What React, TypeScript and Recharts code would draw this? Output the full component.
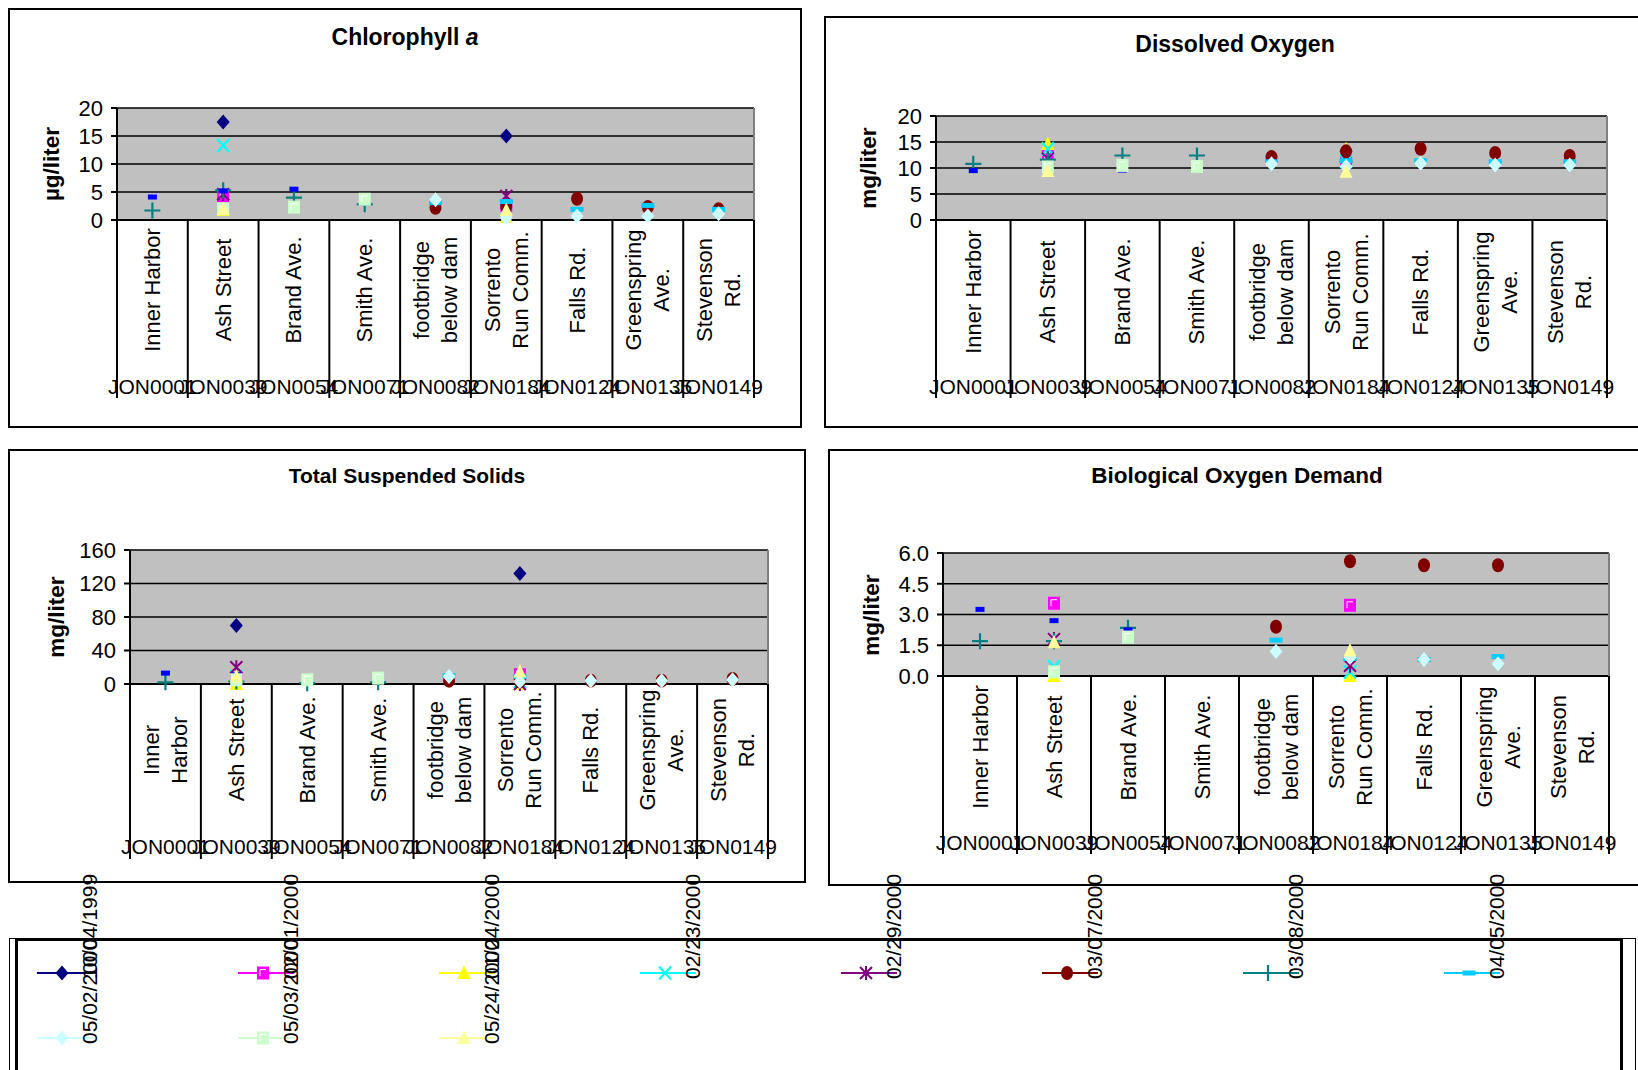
import React from "react";
import type { ReactNode } from "react";
import { CartesianGrid, ComposedChart, Line, XAxis, YAxis } from "recharts";

const FONT = '"Liberation Sans", Arial, Helvetica, sans-serif';
const FONT_SIZE = 21;
const NAME_SIZE = 22;
const N = null;

const stations = [
  "Inner Harbor",
  "Ash Street",
  "Brand Ave.",
  "Smith Ave.",
  "footbridge below dam",
  "Sorrento Run Comm.",
  "Falls Rd.",
  "Greenspring Ave.",
  "Stevenson Rd."
];
const stationCodes = ["JON0001", "JON0039", "JON0054", "JON0071", "JON0082", "JON0184", "JON0124", "JON0135", "JON0149"];

// sampling dates, one per series (the 8th series has no legend entry)
const seriesDates = [
  "10/04/1999",
  "02/01/2000",
  "01/24/2000",
  "02/23/2000",
  "02/29/2000",
  "03/07/2000",
  "03/08/2000",
  "",
  "04/05/2000",
  "05/02/2000",
  "05/03/2000",
  "05/24/2000"
];
const seriesColors = [
  "#000080", "#FF00FF", "#FFFF00", "#00FFFF", "#800080", "#800000",
  "#008080", "#0000FF", "#00CCFF", "#CCFFFF", "#CCFFCC", "#FFFF99"
];
const seriesMarkers = [
  "diamond", "square", "triangle", "x", "star", "circle",
  "plus", "shortDash", "dash", "diamond", "square", "triangle"
];
const legendSeries = [0, 1, 2, 3, 4, 5, 6, 8, 9, 10, 11];

const chlorophyllTicks = [0, 5, 10, 15, 20];
const chlorophyllValues: (number | null)[][] = [
  [N, 17.5, N, N, N, 15.0, N, N, N],
  [N, 4.3, N, N, N, 2.6, N, N, N],
  [N, 1.8, N, N, N, 0.6, N, N, N],
  [N, 13.3, N, N, N, N, N, N, N],
  [N, 4.6, N, N, N, 4.3, N, N, N],
  [N, N, N, N, 2.2, 2.4, 3.8, 2.3, 1.9],
  [1.7, 5.3, 4.0, 2.8, N, N, N, N, N],
  [4.1, 5.2, 5.5, 3.0, N, N, N, N, N],
  [N, N, N, N, 3.1, 3.3, 1.9, 2.6, 1.9],
  [N, N, N, N, 3.6, 0.4, 0.7, 0.7, 1.1],
  [N, 2.0, 2.3, 3.7, N, N, N, N, N],
  [N, 2.0, N, N, N, 1.8, N, N, N]
];

const oxygenTicks = [0, 5, 10, 15, 20];
const oxygenValues: (number | null)[][] = [
  [N, N, N, N, N, N, N, N, N],
  [N, 12.3, N, N, N, 11.8, N, N, N],
  [N, 14.6, N, N, N, 13.6, N, N, N],
  [N, 13.7, N, N, N, 11.3, N, N, N],
  [N, 11.8, N, N, N, 12.2, N, N, N],
  [N, N, N, N, 12.1, 13.2, 13.7, 12.9, 12.3],
  [10.8, 11.6, 12.4, 12.4, N, N, N, N, N],
  [9.5, 9.8, 9.6, 9.6, N, N, N, N, N],
  [N, N, N, N, 11.2, 11.4, 11.4, 11.2, 11.2],
  [N, N, N, N, 10.8, 10.3, 10.9, 10.6, 10.6],
  [N, 10.2, 10.5, 10.3, N, N, N, N, N],
  [N, 9.4, N, N, N, 9.3, N, N, N]
];

const solidsTicks = [0, 40, 80, 120, 160];
const solidsValues: (number | null)[][] = [
  [N, 70, N, N, N, 132, N, N, N],
  [N, 6, N, N, N, 11, N, N, N],
  [N, 0, N, N, N, 0, N, N, N],
  [N, 9, N, N, N, 3, N, N, N],
  [N, 20, N, N, N, 0, N, N, N],
  [N, N, N, N, 4, 3, 4, 4, 6],
  [2, 3, 1, 2, N, N, N, N, N],
  [13, 11, 9, 7, N, N, N, N, N],
  [N, N, N, N, 10, 9, N, N, N],
  [N, N, N, N, 9, 3, 4, 4, 5],
  [N, 5, 5, 7, N, N, N, N, N],
  [N, 9, N, N, N, 15, N, N, N]
];

const bodTicks = [0, 1.5, 3, 4.5, 6];
const bodValues: (number | null)[][] = [
  [N, N, N, N, N, N, N, N, N],
  [N, 3.55, N, N, N, 3.45, N, N, N],
  [N, 0.0, N, N, N, 0.0, N, N, N],
  [N, 0.45, N, N, N, 0.2, N, N, N],
  [N, 1.8, N, N, N, 0.5, N, N, N],
  [N, N, N, N, 2.4, 5.6, 5.4, 5.4, N],
  [1.7, 1.7, 2.35, N, N, N, N, N, N],
  [3.25, 2.7, 2.25, N, N, N, N, N, N],
  [N, N, N, N, 1.75, 0.85, 0.8, 0.95, N],
  [N, N, N, N, 1.2, 0.9, 0.8, 0.6, N],
  [N, 0.2, 1.9, N, N, N, N, N, N],
  [N, 1.65, N, N, N, 1.25, N, N, N]
];

let measureCtx: CanvasRenderingContext2D | null = null;
function textWidth(s: string) {
  if (!measureCtx) measureCtx = document.createElement("canvas").getContext("2d");
  if (!measureCtx) return s.length * NAME_SIZE * 0.55;
  measureCtx.font = `${NAME_SIZE}px ${FONT}`;
  return measureCtx.measureText(s).width;
}

function wrapLabel(name: string, maxWidth: number) {
  const lines: string[] = [];
  let cur = "";
  for (const w of name.split(" ")) {
    const next = cur ? `${cur} ${w}` : w;
    if (cur && textWidth(next) > maxWidth) {
      lines.push(cur);
      cur = w;
    } else {
      cur = next;
    }
  }
  if (cur) lines.push(cur);
  return lines;
}

function marker(kind: string, color: string, cx: number, cy: number, key?: string | number) {
  switch (kind) {
    case "diamond":
      return <polygon key={key} points={`${cx},${cy - 7.5} ${cx + 6.5},${cy} ${cx},${cy + 7.5} ${cx - 6.5},${cy}`} fill={color} />;
    case "square":
      return (
        <g key={key}>
          <rect x={cx - 6} y={cy - 6.5} width={12} height={13} fill={color} />
          <path d={`M${cx - 3} ${cy + 3} V${cy - 3.5} H${cx + 3}`} stroke="#fff" strokeWidth={1} fill="none" />
        </g>
      );
    case "triangle":
      return <polygon key={key} points={`${cx},${cy - 7.5} ${cx + 6.5},${cy + 6} ${cx - 6.5},${cy + 6}`} fill={color} />;
    case "x":
      return (
        <path key={key} d={`M${cx - 6} ${cy - 6.5} L${cx + 6} ${cy + 6.5} M${cx + 6} ${cy - 6.5} L${cx - 6} ${cy + 6.5}`} stroke={color} strokeWidth={2.2} />
      );
    case "star":
      return (
        <path
          key={key}
          d={`M${cx - 6} ${cy - 6} L${cx + 6} ${cy + 6} M${cx + 6} ${cy - 6} L${cx - 6} ${cy + 6} M${cx} ${cy - 7} V${cy + 7}`}
          stroke={color}
          strokeWidth={2}
        />
      );
    case "circle":
      return <ellipse key={key} cx={cx} cy={cy} rx={6} ry={7} fill={color} />;
    case "plus":
      return <path key={key} d={`M${cx - 8} ${cy} H${cx + 8} M${cx} ${cy - 8} V${cy + 8}`} stroke={color} strokeWidth={2.2} />;
    case "shortDash":
      return <rect key={key} x={cx - 4.5} y={cy - 2.5} width={9} height={5} fill={color} />;
    default:
      return <rect key={key} x={cx - 6.5} y={cy - 2.5} width={13} height={5} fill={color} />;
  }
}

type Box = { left: number; top: number; right: number; bottom: number };

type PanelProps = {
  title: ReactNode;
  titleSize: number;
  unit: string;
  values: (number | null)[][];
  ticks: number[];
  decimals: number;
  box: Box;
  plot: Box;
  titleY: number;
  unitX: number;
  labelOffset: number;
  codeOffset: number;
  dividerLength: number;
  wrapWidth: number;
};

function Panel(p: PanelProps) {
  const width = p.box.right - p.box.left;
  const height = p.box.bottom - p.box.top;
  const band = (p.plot.right - p.plot.left) / stations.length;
  const rows = stations.map((name, i) => {
    const row: Record<string, number | string | null> = { pos: i + 0.5, station: name };
    p.values.forEach((vals, k) => {
      row[`s${k}`] = vals[i];
    });
    return row;
  });

  const renderTick = (props: any) => {
    const { x, y, payload } = props;
    const index = Math.floor(payload.value);
    const lines = wrapLabel(stations[index], p.wrapWidth);
    return (
      <g>
        <line x1={x - band / 2} y1={y} x2={x - band / 2} y2={y + p.dividerLength} stroke="#000" strokeWidth={2} />
        {index === stations.length - 1 && (
          <line x1={x + band / 2} y1={y} x2={x + band / 2} y2={y + p.dividerLength} stroke="#000" strokeWidth={2} />
        )}
        <g transform={`translate(${x},${y + p.labelOffset}) rotate(-90)`}>
          {lines.map((line, i) => (
            <text
              key={i}
              x={0}
              y={(i - (lines.length - 1) / 2) * 28}
              textAnchor="middle"
              dominantBaseline="central"
              fontSize={NAME_SIZE}
              fontFamily={FONT}
              fill="#000"
            >
              {line}
            </text>
          ))}
        </g>
        <text x={x} y={y + p.codeOffset} textAnchor="middle" dominantBaseline="central" fontSize={FONT_SIZE} fontFamily={FONT} fill="#000">
          {stationCodes[index]}
        </text>
      </g>
    );
  };

  const dotFor = (k: number) => (props: any) => {
    const { cx, cy, value, index } = props;
    if (value == null || cx == null || cy == null || Number.isNaN(cy)) return <g key={`e-${k}-${index}`} />;
    return marker(seriesMarkers[k], seriesColors[k], cx, cy, `d-${k}-${index}`);
  };

  return (
    <>
      <div
        style={{
          position: "absolute",
          left: p.box.left,
          top: p.box.top,
          width,
          height,
          border: "2px solid #000",
          boxSizing: "border-box"
        }}
      />
      <div style={{ position: "absolute", left: p.box.left, top: p.box.top }}>
        <ComposedChart
          width={width}
          height={height}
          data={rows}
          margin={{ top: p.plot.top - p.box.top, right: p.box.right - p.plot.right, left: 0, bottom: 0 }}
        >
          <CartesianGrid vertical={false} stroke="#000" strokeWidth={1.5} fill="#C0C0C0" fillOpacity={1} />
          <XAxis
            type="number"
            dataKey="pos"
            domain={[0, stations.length]}
            ticks={stations.map((_, i) => i + 0.5)}
            interval={0}
            height={p.box.bottom - p.plot.bottom}
            tickSize={0}
            tickMargin={0}
            tickLine={false}
            axisLine={{ stroke: "#000", strokeWidth: 2 }}
            tick={renderTick}
          />
          <YAxis
            type="number"
            domain={[p.ticks[0], p.ticks[p.ticks.length - 1]]}
            ticks={p.ticks}
            interval={0}
            width={p.plot.left - p.box.left}
            tickSize={6}
            tickMargin={8}
            axisLine={{ stroke: "#000", strokeWidth: 2 }}
            tickLine={{ stroke: "#000", strokeWidth: 2 }}
            tick={{ fill: "#000", fontSize: NAME_SIZE, fontFamily: FONT }}
            tickFormatter={(v: number) => v.toFixed(p.decimals)}
          />
          {p.values.map((_, k) => (
            <Line
              key={k}
              type="linear"
              dataKey={`s${k}`}
              stroke="none"
              dot={dotFor(k)}
              activeDot={false}
              legendType="none"
              isAnimationActive={false}
            />
          ))}
        </ComposedChart>
      </div>
      <div
        style={{
          position: "absolute",
          left: p.plot.right - 1,
          top: p.plot.top,
          width: 2,
          height: p.plot.bottom - p.plot.top,
          background: "#808080"
        }}
      />
      <div
        style={{
          position: "absolute",
          left: (p.box.left + p.box.right) / 2,
          top: p.titleY,
          transform: "translate(-50%, -50%)",
          fontFamily: FONT,
          fontWeight: "bold",
          fontSize: p.titleSize,
          whiteSpace: "nowrap"
        }}
      >
        {p.title}
      </div>
      <div
        style={{
          position: "absolute",
          left: p.unitX,
          top: (p.plot.top + p.plot.bottom) / 2,
          transform: "translate(-50%, -50%) rotate(-90deg)",
          fontFamily: FONT,
          fontWeight: "bold",
          fontSize: 22.5,
          whiteSpace: "nowrap"
        }}
      >
        {p.unit}
      </div>
    </>
  );
}

function DateLegend() {
  return (
    <>
      <div
        style={{
          position: "absolute",
          left: 9,
          top: 938,
          width: 1627,
          height: 200,
          borderLeft: "1px solid #000",
          borderTop: "1px solid #000",
          borderRight: "1px solid #000",
          boxSizing: "border-box"
        }}
      />
      <div
        style={{
          position: "absolute",
          left: 15,
          top: 938,
          width: 1608,
          height: 200,
          border: "3px solid #000",
          boxSizing: "border-box",
          background: "#fff"
        }}
      />
      <svg style={{ position: "absolute", left: 0, top: 0 }} width={1638} height={1070}>
        {legendSeries.map((k, i) => {
          const col = i % 8;
          const row = Math.floor(i / 8);
          const mx = 62 + 201 * col;
          const my = 973 + 65 * row;
          return (
            <g key={k}>
              <line x1={mx - 25} x2={mx + 31} y1={my} y2={my} stroke={seriesColors[k]} strokeWidth={2} />
              {marker(seriesMarkers[k], seriesColors[k], mx, my)}
              <text
                transform={`translate(${mx + 27},${my + 6}) rotate(-90)`}
                textAnchor="start"
                dominantBaseline="central"
                fontSize={FONT_SIZE}
                fontFamily={FONT}
                fill="#000"
              >
                {seriesDates[k]}
              </text>
            </g>
          );
        })}
      </svg>
    </>
  );
}

export default function App() {
  return (
    <div style={{ position: "absolute", left: 0, top: 0, width: 1638, height: 1070, overflow: "hidden", background: "#fff" }}>
      <Panel
        title={
          <>
            Chlorophyll <i>a</i>
          </>
        }
        titleSize={23}
        unit="µg/liter"
        values={chlorophyllValues}
        ticks={chlorophyllTicks}
        decimals={0}
        box={{ left: 8, top: 8, right: 802, bottom: 428 }}
        plot={{ left: 117, top: 108, right: 754, bottom: 220 }}
        titleY={37}
        unitX={52}
        labelOffset={70}
        codeOffset={166}
        dividerLength={178}
        wrapWidth={127}
      />
      <Panel
        title="Dissolved Oxygen"
        titleSize={23}
        unit="mg/liter"
        values={oxygenValues}
        ticks={oxygenTicks}
        decimals={0}
        box={{ left: 824, top: 16, right: 1646, bottom: 428 }}
        plot={{ left: 936, top: 116, right: 1607, bottom: 220 }}
        titleY={44}
        unitX={869}
        labelOffset={72}
        codeOffset={166}
        dividerLength={178}
        wrapWidth={127}
      />
      <Panel
        title="Total Suspended Solids"
        titleSize={21}
        unit="mg/liter"
        values={solidsValues}
        ticks={solidsTicks}
        decimals={0}
        box={{ left: 8, top: 449, right: 806, bottom: 883 }}
        plot={{ left: 130, top: 550, right: 768, bottom: 684 }}
        titleY={476}
        unitX={57}
        labelOffset={66}
        codeOffset={162}
        dividerLength={175}
        wrapWidth={120}
      />
      <Panel
        title="Biological Oxygen Demand"
        titleSize={22.5}
        unit="mg/liter"
        values={bodValues}
        ticks={bodTicks}
        decimals={1}
        box={{ left: 828, top: 449, right: 1646, bottom: 886 }}
        plot={{ left: 943, top: 553, right: 1609, bottom: 676 }}
        titleY={476}
        unitX={872}
        labelOffset={71}
        codeOffset={166}
        dividerLength={178}
        wrapWidth={127}
      />
      <DateLegend />
    </div>
  );
}
